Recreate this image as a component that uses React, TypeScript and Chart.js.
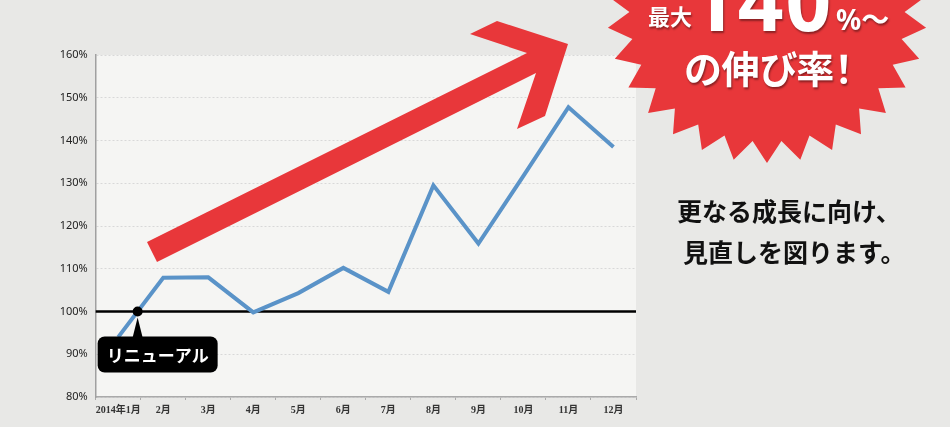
import React, { useEffect, useRef } from 'react';
import Chart from 'chart.js/auto';

// chart values
const months = ['2014年1月', '2月', '3月', '4月', '5月', '6月', '7月', '8月', '9月', '10月', '11月', '12月'];
const growth = [94.0, 107.9, 108.0, 99.8, 104.3, 110.2, 104.6, 129.5, 115.9, 131.7, 147.8, 138.5];
const yMin = 80;
const yMax = 160;
const yStep = 10;
const baseline = 100;
const markerLabel = 'リニューアル';

const RED = '#e8373a';
const CJK = "'Noto Sans CJK JP', 'Noto Sans', sans-serif";
const SHADOW = '1px 2px 2px rgba(0,0,0,0.4)';

// path helper, roundRect is not everywhere
function roundedRect(ctx: CanvasRenderingContext2D, x: number, y: number, w: number, h: number, r: number) {
  ctx.beginPath();
  ctx.moveTo(x + r, y);
  ctx.arcTo(x + w, y, x + w, y + h, r);
  ctx.arcTo(x + w, y + h, x, y + h, r);
  ctx.arcTo(x, y + h, x, y, r);
  ctx.arcTo(x, y, x + w, y, r);
  ctx.closePath();
}

const decorPlugin = {
  id: 'decor',
  beforeDraw(chart: any) {
    const { ctx, chartArea: a } = chart;
    ctx.save();
    ctx.fillStyle = '#f5f5f3';
    ctx.fillRect(a.left, a.top, a.right - a.left, a.bottom - a.top);
    ctx.restore();
  },
  beforeDatasetsDraw(chart: any) {
    const { ctx, chartArea: a, scales } = chart;
    const y = scales.y.getPixelForValue(baseline);
    ctx.save();
    ctx.strokeStyle = '#000';
    ctx.lineWidth = 2.5;
    ctx.beginPath();
    ctx.moveTo(a.left, y);
    ctx.lineTo(a.right, y);
    ctx.stroke();
    ctx.restore();
  },
  afterDatasetsDraw(chart: any) {
    const { ctx, scales } = chart;
    // where the series first crosses the 100% line
    const i = growth.findIndex((v, k) => k < growth.length - 1 && v < baseline && growth[k + 1] >= baseline);
    if (i < 0) return;
    const t = (baseline - growth[i]) / (growth[i + 1] - growth[i]);
    const x0 = scales.x.getPixelForValue(i);
    const x1 = scales.x.getPixelForValue(i + 1);
    const x = x0 + t * (x1 - x0);
    const y = scales.y.getPixelForValue(baseline);

    ctx.save();
    ctx.fillStyle = '#000';
    ctx.beginPath();
    ctx.arc(x, y, 5, 0, Math.PI * 2);
    ctx.fill();

    // callout
    const bx = x - 40;
    const by = y + 25;
    ctx.beginPath();
    ctx.moveTo(x, y + 6);
    ctx.lineTo(x + 5, by + 1);
    ctx.lineTo(x - 5, by + 1);
    ctx.closePath();
    ctx.fill();
    roundedRect(ctx, bx, by, 120, 36, 7);
    ctx.fill();

    ctx.fillStyle = '#fff';
    ctx.font = `bold 17px ${CJK}`;
    ctx.textAlign = 'center';
    ctx.textBaseline = 'middle';
    ctx.fillText(markerLabel, bx + 60, by + 19);
    ctx.restore();
  },
};

function starPoints(cx: number, cy: number, rx: number, ry: number, spikes: number, inner: number) {
  const pts: string[] = [];
  for (let k = 0; k < spikes * 2; k++) {
    const ang = Math.PI / 2 + (k * Math.PI) / spikes;
    const f = k % 2 === 0 ? 1 : inner;
    pts.push(`${(cx + Math.cos(ang) * rx * f).toFixed(1)},${(cy + Math.sin(ang) * ry * f).toFixed(1)}`);
  }
  return pts.join(' ');
}

const arrowPts = '147,242 527,53 470,34 497,21 568,44 545,116 517,129 536,73 157,262';

const GrowthChart: React.FC = () => {
  const canvasRef = useRef<HTMLCanvasElement | null>(null);

  useEffect(() => {
    if (!canvasRef.current) return;
    const chart = new Chart(canvasRef.current, {
      type: 'line',
      data: {
        labels: months,
        datasets: [
          {
            data: growth,
            borderColor: '#5a93c8',
            borderWidth: 4,
            pointRadius: 0,
            tension: 0,
            fill: false,
          },
        ],
      },
      options: {
        animation: false,
        responsive: true,
        maintainAspectRatio: false,
        layout: { padding: { left: 0, top: 55, right: 314, bottom: 0 } },
        plugins: { legend: { display: false }, tooltip: { enabled: false } },
        scales: {
          x: {
            offset: true,
            afterFit: (s: any) => {
              s.height = 30;
            },
            grid: { offset: true, drawOnChartArea: false, tickLength: 3, color: '#aaa' },
            border: { color: '#aaa', width: 1.5 },
            ticks: {
              autoSkip: false,
              maxRotation: 0,
              padding: 4,
              color: '#333',
              font: { family: "'Liberation Serif', 'Noto Sans CJK JP', serif", size: 10, weight: 'bold' },
            },
          },
          y: {
            min: yMin,
            max: yMax,
            afterFit: (s: any) => {
              s.width = 95.7;
            },
            grid: {
              drawTicks: false,
              color: (c: any) => (c.tick && c.tick.value === baseline ? 'rgba(0,0,0,0)' : '#d8d8d8'),
            },
            border: { color: '#a0a0a0', width: 1.5, dash: [2, 2] },
            ticks: {
              stepSize: yStep,
              padding: 8,
              color: '#222',
              font: { family: "'Noto Sans', sans-serif", size: 11 },
              callback: (v: any) => `${v}%`,
            },
          },
        },
      },
      plugins: [decorPlugin],
    });
    return () => chart.destroy();
  }, []);

  const white = { position: 'absolute' as const, color: '#fff', fontWeight: 'bold' as const, textShadow: SHADOW, whiteSpace: 'nowrap' as const };

  return (
    <div
      style={{
        position: 'absolute',
        left: 0,
        top: 0,
        width: 950,
        height: 427,
        background: '#e8e8e6',
        overflow: 'hidden',
        fontFamily: CJK,
      }}
    >
      <div style={{ position: 'absolute', left: 0, top: 0, width: 950, height: 427 }}>
        <canvas ref={canvasRef} />
      </div>
      <svg width={950} height={427} style={{ position: 'absolute', left: 0, top: 0, pointerEvents: 'none' }}>
        <polygon points={arrowPts} fill={RED} />
        <polygon points={starPoints(767, 12, 160, 151, 30, 0.86)} fill={RED} />
      </svg>
      <div style={{ ...white, left: 648, top: 4, fontSize: 22, lineHeight: '22px' }}>最大</div>
      <div style={{ ...white, left: 690, top: -40, fontSize: 80, lineHeight: '80px', fontFamily: "'Noto Sans', sans-serif", letterSpacing: 2 }}>
        140
      </div>
      <div style={{ ...white, left: 836, top: 5, fontSize: 28, lineHeight: '28px', fontFamily: "'Noto Sans', 'Noto Sans CJK JP', sans-serif" }}>
        %～
      </div>
      <div style={{ ...white, left: 684, top: 48, fontSize: 38, lineHeight: '38px', fontFeatureSettings: '"palt"' }}>
        の伸び率！
      </div>
      <div style={{ position: 'absolute', left: 677, top: 198, color: '#111', fontWeight: 'bold', fontSize: 25, lineHeight: '25px', whiteSpace: 'nowrap' }}>
        更なる成長に向け、
      </div>
      <div style={{ position: 'absolute', left: 683, top: 239, color: '#111', fontWeight: 'bold', fontSize: 25, lineHeight: '25px', whiteSpace: 'nowrap' }}>
        見直しを図ります。
      </div>
    </div>
  );
};

export default function App() {
  return <GrowthChart />;
}
